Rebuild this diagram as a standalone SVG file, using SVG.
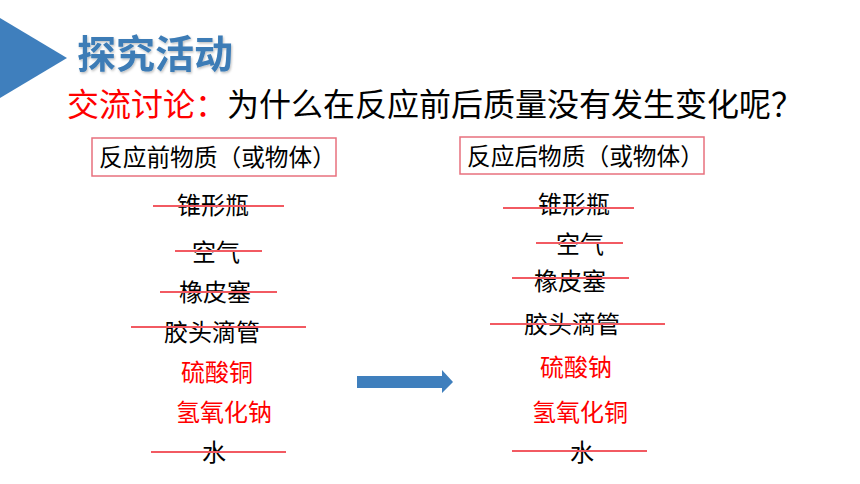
<svg xmlns="http://www.w3.org/2000/svg" width="860" height="484" viewBox="0 0 860 484">
<style>
text{font-family:"Noto Sans CJK SC","Noto Sans",sans-serif;}
.item{font-size:24px;fill:#000;}
.red{fill:#FF0000;}
.hdr{font-size:23.7px;fill:#000;}
.box{fill:none;stroke:#E8707E;stroke-width:1.5;}
.strike{stroke:#F25A62;stroke-width:2;fill:none;}
</style>
<defs>
<filter id="sh" x="-5%" y="-5%" width="115%" height="120%">
<feDropShadow dx="1" dy="1.5" stdDeviation="0.8" flood-color="#000" flood-opacity="0.25"/>
</filter>
</defs>
<rect width="860" height="484" fill="#FFFFFF"/>
<g id="header">
<polygon points="0,18 67,58 0,98" fill="#3F7FBD"/>
<text x="77" y="68" font-size="39" font-weight="bold" fill="#3C7CB6" filter="url(#sh)">探究活动</text>
<text x="67" y="116" font-size="32"><tspan fill="#FF0000">交流讨论：</tspan><tspan fill="#000">为什么在反应前后质量没有发生变化呢？</tspan></text>
</g>
<g id="before-box">
<rect class="box" x="92" y="138" width="244" height="38"/>
<text class="hdr" x="99" y="166">反应前物质（或物体）</text>
</g>
<g id="after-box">
<rect class="box" x="460" y="137" width="244" height="37"/>
<text class="hdr" x="467" y="165">反应后物质（或物体）</text>
</g>
<g id="before-items">
<text class="item" x="177" y="214">锥形瓶</text>
<text class="item" x="192" y="261">空气</text>
<text class="item" x="179" y="301">橡皮塞</text>
<text class="item" x="164" y="341">胶头滴管</text>
<text class="item red" x="181" y="381">硫酸铜</text>
<text class="item red" x="176" y="421">氢氧化钠</text>
<text class="item" x="202" y="461">水</text>
</g>
<g id="after-items">
<text class="item" x="538" y="213">锥形瓶</text>
<text class="item" x="556" y="253">空气</text>
<text class="item" x="534" y="290">橡皮塞</text>
<text class="item" x="524" y="333">胶头滴管</text>
<text class="item red" x="540" y="376">硫酸钠</text>
<text class="item red" x="532" y="421">氢氧化铜</text>
<text class="item" x="570" y="461">水</text>
</g>
<g id="connectors">
<line class="strike" x1="153" y1="206" x2="284" y2="206"/>
<line class="strike" x1="175" y1="251" x2="262" y2="251"/>
<line class="strike" x1="160" y1="292" x2="277" y2="292"/>
<line class="strike" x1="131" y1="327" x2="306" y2="327"/>
<line class="strike" x1="151" y1="452" x2="286" y2="452"/>
<line class="strike" x1="503" y1="208" x2="634" y2="208"/>
<line class="strike" x1="536" y1="243" x2="623" y2="243"/>
<line class="strike" x1="512" y1="278" x2="629" y2="278"/>
<line class="strike" x1="490" y1="324" x2="665" y2="324"/>
<line class="strike" x1="512" y1="451" x2="647" y2="451"/>
<polygon id="arrow" points="357,376 442,376 442,370 453,382 442,393 442,388 357,388" fill="#3F7FBD"/>
</g>
</svg>
